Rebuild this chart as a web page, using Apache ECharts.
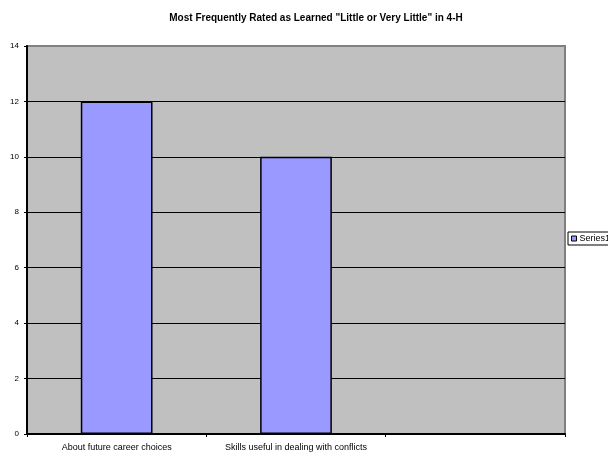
<!DOCTYPE html>
<html>
<head>
<meta charset="utf-8">
<script src="https://cdn.jsdelivr.net/npm/echarts@6/dist/echarts.min.js"></script>
<style>
  html, body { margin: 0; padding: 0; background: #fff; }
  #main { width: 608px; height: 453px; }
</style>
</head>
<body>
<div id="main"></div>
<script>
var categories = ['About future career choices', 'Skills useful in dealing with conflicts', ''];
var seriesValues = [12, 10, null];
var seriesName = 'Series1';
var chartTitle = 'Most Frequently Rated as Learned "Little or Very Little" in 4-H';

var myChart = echarts.init(document.getElementById('main'));
var option = {
    backgroundColor: '#ffffff',
    animation: false,
    textStyle: { fontFamily: 'Liberation Sans, Arial, sans-serif' },
    title: {
        text: chartTitle,
        left: 311,
        textAlign: 'center',
        top: 8,
        textStyle: { fontSize: 10, fontWeight: 'bold', color: '#000' }
    },
    legend: {
        data: [seriesName],
        left: 568,
        top: 232,
        orient: 'vertical',
        backgroundColor: '#fff',
        borderColor: '#000',
        borderWidth: 1,
        borderRadius: 0,
        padding: [2, 3, 2, 3],
        itemWidth: 5,
        itemHeight: 5,
        itemGap: 2,
        icon: 'rect',
        itemStyle: { borderColor: '#000', borderWidth: 1 },
        textStyle: { fontSize: 9, color: '#000', padding: [0, 0, 0, -2] }
    },
    grid: {
        left: 27,
        right: 43,
        top: 46,
        bottom: 19,
        show: true,
        backgroundColor: '#C0C0C0',
        borderColor: '#808080',
        borderWidth: 2
    },
    xAxis: {
        type: 'category',
        data: categories,
        axisLine: { lineStyle: { color: '#000', width: 2 } },
        axisTick: { show: true, length: 3, lineStyle: { color: '#000' } },
        axisLabel: { fontSize: 9, color: '#000', margin: 9, interval: 0 },
        splitLine: { show: false }
    },
    yAxis: {
        type: 'value',
        min: 0,
        max: 14,
        interval: 2,
        axisLine: { show: true, lineStyle: { color: '#000', width: 2 } },
        axisTick: { show: true, length: 3, lineStyle: { color: '#000' } },
        axisLabel: { fontSize: 8, color: '#000', margin: 8 },
        splitLine: {
            show: true,
            lineStyle: {
                color: ['#000', '#000', '#000', '#000', '#000', '#000', '#000', '#808080'],
                width: 1
            }
        }
    },
    series: [
        {
            name: seriesName,
            type: 'bar',
            data: seriesValues,
            barWidth: '40%',
            itemStyle: { color: '#9999FF', borderColor: '#000', borderWidth: 1.5 }
        }
    ]
};
myChart.setOption(option);
</script>
</body>
</html>
